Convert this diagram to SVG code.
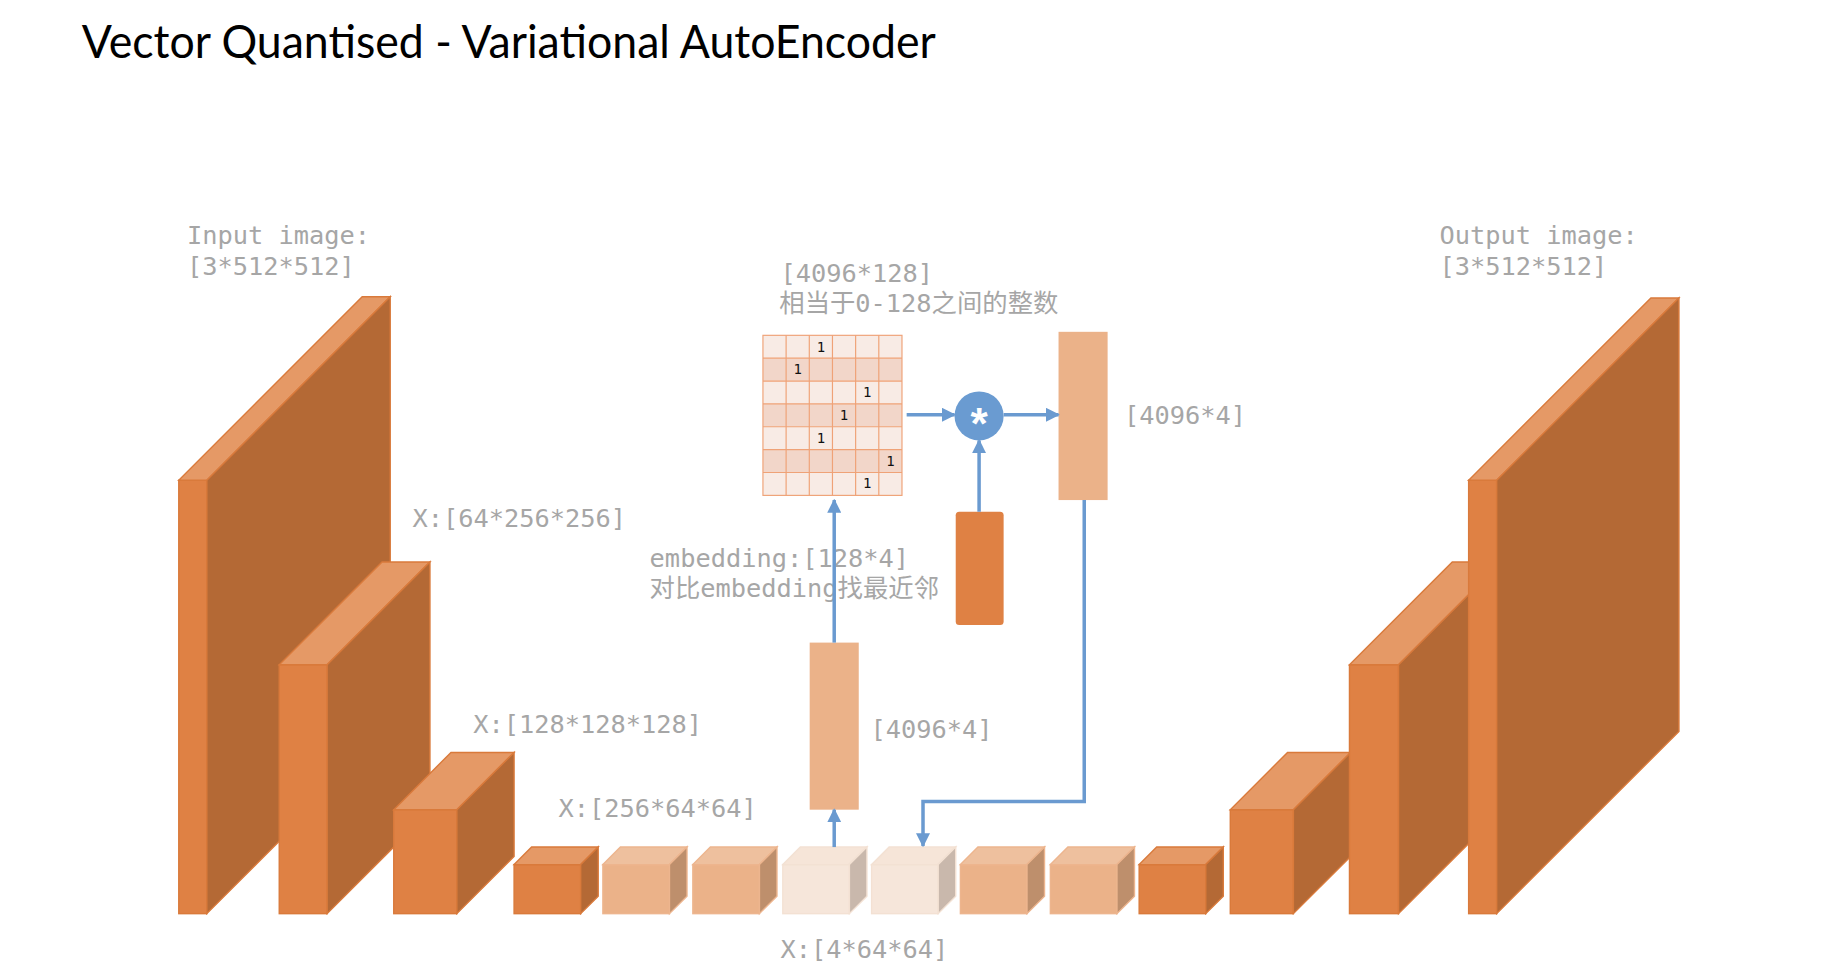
<svg xmlns="http://www.w3.org/2000/svg" width="1832" height="976" viewBox="0 0 1832 976">
<style>
.lbl{font-family:"DejaVu Sans Mono","Liberation Mono","Noto Sans CJK SC",monospace;font-size:21.7px;fill:#A6A6A6}
.one{font-family:"DejaVu Sans Mono","Liberation Mono",monospace;font-size:12px;fill:#111;text-anchor:middle}
.dF{fill:#DF8144;stroke:#D97A3B;stroke-width:1.2}
.dT{fill:#E59966;stroke:#D97A3B;stroke-width:1.2}
.dS{fill:#B46935;stroke:#D97A3B;stroke-width:1.2}
.lF{fill:#EBB289;stroke:#EDB58E;stroke-width:1.2}
.lT{fill:#EEC09E;stroke:#EDB58E;stroke-width:1.2}
.lS{fill:#BE8F6C;stroke:#EDB58E;stroke-width:1.2}
.xF{fill:#F6E6DA;stroke:#F3E1D3;stroke-width:1.2}
.xT{fill:#F6E5D8;stroke:#F3E1D3;stroke-width:1.2}
.xS{fill:#C9B8AC;stroke:#F3E1D3;stroke-width:1.2}
.conn{fill:none;stroke:#6A9AD0;stroke-width:3;marker-end:url(#arr)}
.rowA{fill:#F8EBE5}
.rowB{fill:#F2D6C9}
.grid{stroke:#EFA277;stroke-width:1;fill:none}
</style>
<defs>
<marker id="arr" viewBox="0 0 10 10" refX="9" refY="5" markerWidth="12" markerHeight="12" markerUnits="userSpaceOnUse" orient="auto">
<path d="M0,0 L10,5 L0,10 z" fill="#6A9AD0"/>
</marker>
</defs>
<rect width="1832" height="976" fill="#ffffff"/>
<g transform="scale(1.168367)">
<text id="title" x="70" y="50" font-family="Lato,'Open Sans','Liberation Sans',sans-serif" font-size="39" fill="#000" textLength="731" lengthAdjust="spacingAndGlyphs">Vector Quantised - Variational AutoEncoder</text>

<g id="enc1">
<rect class="dF" x="153" y="411" width="24" height="371"/>
<polygon class="dT" points="153,411 177,411 334,254 310,254"/>
<polygon class="dS" points="177,411 334,254 334,625 177,782"/>
</g>
<g id="enc2">
<rect class="dF" x="239" y="569" width="41" height="213"/>
<polygon class="dT" points="239,569 280,569 368,481 327,481"/>
<polygon class="dS" points="280,569 368,481 368,694 280,782"/>
</g>
<g id="enc3">
<rect class="dF" x="337" y="693" width="54" height="89"/>
<polygon class="dT" points="337,693 391,693 440,644 386,644"/>
<polygon class="dS" points="391,693 440,644 440,733 391,782"/>
</g>

<g id="cube1">
<rect class="dF" x="440" y="740" width="57" height="42"/>
<polygon class="dT" points="440,740 497,740 512,725 455,725"/>
<polygon class="dS" points="497,740 512,725 512,767 497,782"/>
</g>
<g id="cube2">
<rect class="lF" x="516" y="740" width="57" height="42"/>
<polygon class="lT" points="516,740 573,740 588,725 531,725"/>
<polygon class="lS" points="573,740 588,725 588,767 573,782"/>
</g>
<g id="cube3">
<rect class="lF" x="593" y="740" width="57" height="42"/>
<polygon class="lT" points="593,740 650,740 665,725 608,725"/>
<polygon class="lS" points="650,740 665,725 665,767 650,782"/>
</g>
<g id="cube4">
<rect class="xF" x="670" y="740" width="57" height="42"/>
<polygon class="xT" points="670,740 727,740 742,725 685,725"/>
<polygon class="xS" points="727,740 742,725 742,767 727,782"/>
</g>
<g id="cube5">
<rect class="xF" x="746" y="740" width="57" height="42"/>
<polygon class="xT" points="746,740 803,740 818,725 761,725"/>
<polygon class="xS" points="803,740 818,725 818,767 803,782"/>
</g>
<g id="cube6">
<rect class="lF" x="822" y="740" width="57" height="42"/>
<polygon class="lT" points="822,740 879,740 894,725 837,725"/>
<polygon class="lS" points="879,740 894,725 894,767 879,782"/>
</g>
<g id="cube7">
<rect class="lF" x="899" y="740" width="57" height="42"/>
<polygon class="lT" points="899,740 956,740 971,725 914,725"/>
<polygon class="lS" points="956,740 971,725 971,767 956,782"/>
</g>
<g id="cube8">
<rect class="dF" x="975" y="740" width="57" height="42"/>
<polygon class="dT" points="975,740 1032,740 1047,725 990,725"/>
<polygon class="dS" points="1032,740 1047,725 1047,767 1032,782"/>
</g>

<g id="dec3">
<rect class="dF" x="1053" y="693" width="54" height="89"/>
<polygon class="dT" points="1053,693 1107,693 1156,644 1102,644"/>
<polygon class="dS" points="1107,693 1156,644 1156,733 1107,782"/>
</g>
<g id="dec2">
<rect class="dF" x="1155" y="569" width="42" height="213"/>
<polygon class="dT" points="1155,569 1197,569 1285,481 1243,481"/>
<polygon class="dS" points="1197,569 1285,481 1285,694 1197,782"/>
</g>
<g id="dec1">
<rect class="dF" x="1257" y="411" width="24" height="371"/>
<polygon class="dT" points="1257,411 1281,411 1437,255 1413,255"/>
<polygon class="dS" points="1281,411 1437,255 1437,626 1281,782"/>
</g>

<g id="matrix">
<rect class="rowA" x="653" y="287" width="119" height="19.57"/>
<rect class="rowB" x="653" y="306.57" width="119" height="19.57"/>
<rect class="rowA" x="653" y="326.14" width="119" height="19.57"/>
<rect class="rowB" x="653" y="345.71" width="119" height="19.57"/>
<rect class="rowA" x="653" y="365.28" width="119" height="19.57"/>
<rect class="rowB" x="653" y="384.85" width="119" height="19.57"/>
<rect class="rowA" x="653" y="404.42" width="119" height="19.58"/>
<path class="grid" d="M653,306.57H772M653,326.14H772M653,345.71H772M653,365.28H772M653,384.85H772M653,404.42H772M672.83,287V424M692.67,287V424M712.5,287V424M732.33,287V424M752.17,287V424"/>
<rect class="grid" x="653" y="287" width="119" height="137"/>
<text class="one" x="702.6" y="301">1</text>
<text class="one" x="682.7" y="320.5">1</text>
<text class="one" x="742.3" y="340">1</text>
<text class="one" x="722.4" y="359.5">1</text>
<text class="one" x="702.6" y="379">1</text>
<text class="one" x="762.1" y="398.6">1</text>
<text class="one" x="742.3" y="418">1</text>
</g>

<g id="multiply">
<circle cx="838" cy="356" r="21" fill="#6A9BD1"/>
<text x="838" y="376" font-family="'Liberation Sans',sans-serif" font-weight="bold" font-size="38" fill="#fff" text-anchor="middle">*</text>
</g>
<g id="zq">
<rect x="906" y="284" width="42" height="144" fill="#EBB289"/>
</g>
<g id="embedding">
<rect x="818" y="438" width="41" height="97" rx="3" fill="#DF8144"/>
</g>
<g id="ze">
<rect x="693" y="550" width="42" height="143" fill="#EBB289"/>
</g>

<g id="labels">
<text class="lbl" x="160" y="209">Input image:</text>
<text class="lbl" x="160" y="235">[3*512*512]</text>
<text class="lbl" x="1232" y="209">Output image:</text>
<text class="lbl" x="1232" y="235">[3*512*512]</text>
<text class="lbl" x="668" y="241">[4096*128]</text>
<text class="lbl" x="667" y="267">相当于0-128之间的整数</text>
<text class="lbl" x="962" y="363">[4096*4]</text>
<text class="lbl" x="353" y="451">X:[64*256*256]</text>
<text class="lbl" x="405" y="627">X:[128*128*128]</text>
<text class="lbl" x="478" y="699">X:[256*64*64]</text>
<text class="lbl" x="556" y="485">embedding:[128*4]</text>
<text class="lbl" x="556" y="511">对比embedding找最近邻</text>
<text class="lbl" x="745" y="632">[4096*4]</text>
<text class="lbl" x="668" y="820">X:[4*64*64]</text>
</g>

<g id="connectors">
<line class="conn" x1="776" y1="355" x2="817" y2="355"/>
<line class="conn" x1="859" y1="355" x2="906" y2="355"/>
<line class="conn" x1="838" y1="438" x2="838" y2="377"/>
<line class="conn" x1="714" y1="725" x2="714" y2="693"/>
<line class="conn" x1="714" y1="550" x2="714" y2="428"/>
<polyline class="conn" points="928,428 928,686 790,686 790,724"/>
</g>
</g>
</svg>
